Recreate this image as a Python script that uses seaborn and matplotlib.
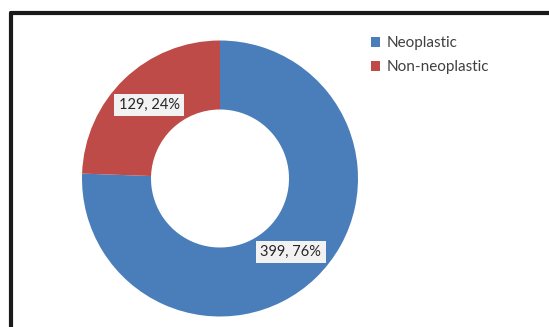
import matplotlib
matplotlib.use("Agg")
import matplotlib.pyplot as plt
import seaborn as sns
from matplotlib.lines import Line2D
from matplotlib.patches import Patch

# data
categories = ["Neoplastic", "Non-neoplastic"]
counts = [399, 129]
colors = ["#4a7ebb", "#be4b48"]

sns.set_style("white")
plt.rcParams["font.family"] = ["Lato", "DejaVu Sans"]

W, H = 549, 327
fig = plt.figure(figsize=(W / 100, H / 100), dpi=100)

# pie axes: centre (220, 178) px, radius 138 px
cx, cy, r = 220, 178.5, 138
ax = fig.add_axes([(cx - r) / W, (H - cy - r) / H, 2 * r / W, 2 * r / H])

total = sum(counts)

def fmt(pct):
    n = int(round(pct * total / 100))
    return f"{n}, {pct:.0f}%"

wedges, texts, autotexts = ax.pie(
    counts, colors=colors, startangle=90, counterclock=False,
    autopct=fmt, pctdistance=0.74, radius=1,
    wedgeprops=dict(width=0.5, edgecolor="none"),
)
for t in autotexts:
    t.set_fontsize(10.5)
    t.set_color("#262626")
    t.set_bbox(dict(facecolor="#f2f2f2", edgecolor="none", boxstyle="square,pad=0.3"))
ax.set_xlim(-1, 1)
ax.set_ylim(-1, 1)
ax.set_aspect("equal")
ax.axis("off")

# legend
handles = [Patch(facecolor=c, edgecolor="none") for c in colors]
fig.legend(handles, categories, loc="upper left",
           bbox_to_anchor=(365 / W, 1 - 30 / H), frameon=False,
           fontsize=11, labelcolor="#404040",
           handlelength=0.6, handleheight=0.6, handletextpad=0.4,
           labelspacing=0.65, borderaxespad=0)

# outer frame (top and left edges visible)
fig.add_artist(Line2D([10.5 / W, 1], [1 - 13 / H, 1 - 13 / H],
                      transform=fig.transFigure, color="#1a1a1a", lw=3))
fig.add_artist(Line2D([10.5 / W, 10.5 / W], [0, 1 - 13 / H],
                      transform=fig.transFigure, color="#1a1a1a", lw=3))

fig.savefig("out.png", dpi=100, facecolor="white")
